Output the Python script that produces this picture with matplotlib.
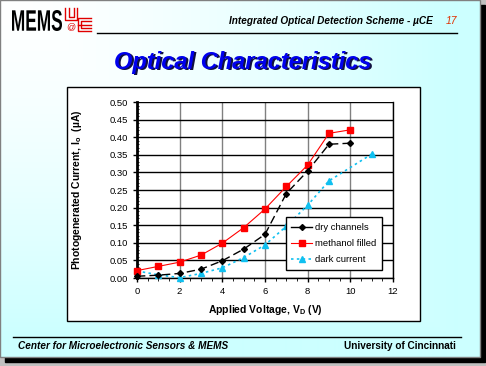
import numpy as np
import matplotlib
matplotlib.use("Agg")
import matplotlib.pyplot as plt
from matplotlib.lines import Line2D
from matplotlib.textpath import TextPath
from matplotlib.patches import PathPatch
from matplotlib.font_manager import FontProperties
from matplotlib.transforms import Affine2D

plt.rcParams["font.family"] = ["Liberation Sans", "DejaVu Sans"]

# ── Data ─────────────────────────────────────────────────────────────────────
dry_v  = [0, 1, 2, 3, 4, 5, 6, 7, 8, 9, 10]
dry_i  = [0.005, 0.008, 0.013, 0.025, 0.049, 0.082, 0.124, 0.240, 0.304, 0.380, 0.383]

meth_v = [0, 1, 2, 3, 4, 5, 6, 7, 8, 9, 10]
meth_i = [0.021, 0.033, 0.045, 0.065, 0.099, 0.143, 0.196, 0.260, 0.321, 0.411, 0.421]

dark_v = [0, 1, 2, 3, 4, 5, 6, 7, 8, 9, 11]
dark_i = [0.020, 0.009, 0.001, 0.013, 0.029, 0.058, 0.094, 0.147, 0.207, 0.276, 0.352]

x_ticks = [0, 2, 4, 6, 8, 10, 12]
y_ticks = [0.00, 0.05, 0.10, 0.15, 0.20, 0.25, 0.30, 0.35, 0.40, 0.45, 0.50]

W, H = 486, 366
fig = plt.figure(figsize=(W / 100, H / 100), dpi=100)
fig.patch.set_facecolor("#c0c0c0")

# ── Slide background (pixel coordinates) ────────────────────────────────────
bg = fig.add_axes([0, 0, 1, 1])
bg.set_xlim(0, W); bg.set_ylim(H, 0); bg.axis("off")

SW, SH = 480, 357
bg.add_patch(plt.Rectangle((5, 5), SW, SH, color="black", zorder=0))
yy, xx = np.mgrid[0:SH, 0:SW]
t = np.clip(np.maximum(xx / SW, yy / SH) ** 1.5 * 1.1, 0, 1)
grad = np.dstack([1 - 0.2 * t, np.ones_like(t), np.ones_like(t)])
bg.imshow(grad, extent=(0, SW, SH, 0), zorder=1, aspect="auto")
bg.add_patch(plt.Rectangle((0, 0), SW, SH, fill=False, ec="#808080", lw=1, zorder=2))
bg.set_xlim(0, W); bg.set_ylim(H, 0)

# header logo: condensed "MEMS" drawn as a squeezed text path
tp = TextPath((0, 0), "MEMS", size=10, prop=FontProperties(family="Liberation Sans",
                                                           weight="bold"))
ext = tp.get_extents()
sx = 50 / ext.width
sy = 21 / ext.height
tr = Affine2D().translate(-ext.x0, -ext.y0).scale(sx, -sy).translate(12, 31)
bg.add_patch(PathPatch(tr.transform_path(tp), fc="black", ec="none", zorder=3))

red = "#e00000"
logo_lines = [
    ([65, 65, 77, 77], [8, 20, 20, 8]),        # U
    ([68.5, 68.5, 73.5, 73.5], [8, 17, 17, 8]),
    ([91, 78, 78, 91], [18, 18, 31, 31]),      # C
    ([91, 81, 81, 91], [21, 21, 28, 28]),
    ([78, 91], [24.5, 24.5]),
]
for lx, ly in logo_lines:
    bg.plot(lx, ly, color=red, lw=1, zorder=3)
bg.text(71, 27, "@", fontsize=6.5, color=red, va="center", ha="center", zorder=3)

bg.plot([97, 457], [33, 33], color="black", lw=1, zorder=3)
bg.text(433, 21, "Integrated Optical Detection Scheme - \u00b5CE", fontsize=7.2,
        fontweight="bold", fontstyle="italic", ha="right", va="center", zorder=3)
bg.text(451, 21, "17", fontsize=7.5, fontstyle="italic", color="#e03000",
        ha="center", va="center", zorder=3)

# title with shadow
bg.text(244.5, 63.5, "Optical Characteristics", fontsize=17, fontweight="bold",
        fontstyle="italic", color="#101040", ha="center", va="center", zorder=3)
bg.text(243, 62, "Optical Characteristics", fontsize=17, fontweight="bold",
        fontstyle="italic", color="#0000ee", ha="center", va="center", zorder=4)

# chart area box
bg.add_patch(plt.Rectangle((67, 87), 353, 234, fc="white", ec="black", lw=1, zorder=3))

# footer
bg.plot([13, 461], [337, 337], color="black", lw=1, zorder=3)
bg.text(18, 346, "Center for Microelectronic Sensors & MEMS", fontsize=7.2,
        fontweight="bold", fontstyle="italic", ha="left", va="center", zorder=3)
bg.text(456, 346, "University of Cincinnati", fontsize=7.2, fontweight="bold",
        ha="right", va="center", zorder=3)

# axis labels
bg.text(265, 310, r"Applied Voltage, V$_\mathregular{D}$ (V)", fontsize=7.5,
        fontweight="bold", ha="center", va="center", zorder=4)
bg.text(77, 190, "Photogenerated Current, I$_\\mathregular{o}$  (\u00b5A)", fontsize=7.5,
        fontweight="bold", ha="center", va="center", rotation=90, zorder=4)

# ── Chart ───────────────────────────────────────────────────────────────────
ax = fig.add_axes([137 / W, 1 - 278 / H, (393 - 137) / W, (278 - 102) / H])
ax.set_facecolor("white")
ax.set_xlim(0, 12); ax.set_ylim(0, 0.5)
ax.set_xticks(x_ticks)
ax.set_yticks(y_ticks)
ax.set_yticklabels([f"{v:.2f}" for v in y_ticks])
ax.set_xticks(np.arange(0, 12.01, 0.5), minor=True)
ax.set_yticks(np.arange(0, 0.501, 0.01), minor=True)
ax.tick_params(axis="both", labelsize=6.8, length=3, width=1, direction="out")
ax.tick_params(axis="x", which="minor", length=2, direction="out")
ax.tick_params(axis="y", which="minor", length=1.5, direction="in")
ax.grid(True, axis="y", color="black", lw=1)
ax.grid(True, axis="x", color="#808080", lw=1)
ax.spines["top"].set_visible(False)
ax.spines["left"].set_linewidth(2)
ax.spines["bottom"].set_linewidth(1)
ax.spines["right"].set_linewidth(1)

ax.plot(meth_v, meth_i, color="red", lw=0.8, marker="s", ms=4.5,
        label="methanol filled", zorder=4, clip_on=False)
ax.plot(dry_v, dry_i, color="black", lw=1, ls=(0, (6, 3)), marker="D", ms=3,
        label="dry channels", zorder=5, clip_on=False)
ax.plot(dark_v, dark_i, color="#10c0f0", lw=1.2, ls=(0, (1.5, 2)), marker="^", ms=4.5,
        label="dark current", zorder=3, clip_on=False)

handles = [
    Line2D([], [], color="black", lw=1, marker="D", ms=3, label="dry channels"),
    Line2D([], [], color="red", lw=0.8, marker="s", ms=4.5, label="methanol filled"),
    Line2D([], [], color="#10c0f0", lw=1.2, ls=(0, (1.5, 2)), marker="^", ms=4.5,
           label="dark current"),
]
leg = ax.legend(handles=handles, loc="lower right", bbox_to_anchor=(0.975, 0.02),
                fontsize=6.8, frameon=True, fancybox=False, handlelength=2.2,
                borderpad=0.6, labelspacing=0.75, handletextpad=0.3, framealpha=1)
leg.get_frame().set_edgecolor("black")
leg.get_frame().set_linewidth(1)

fig.savefig("out.png", dpi=100)
